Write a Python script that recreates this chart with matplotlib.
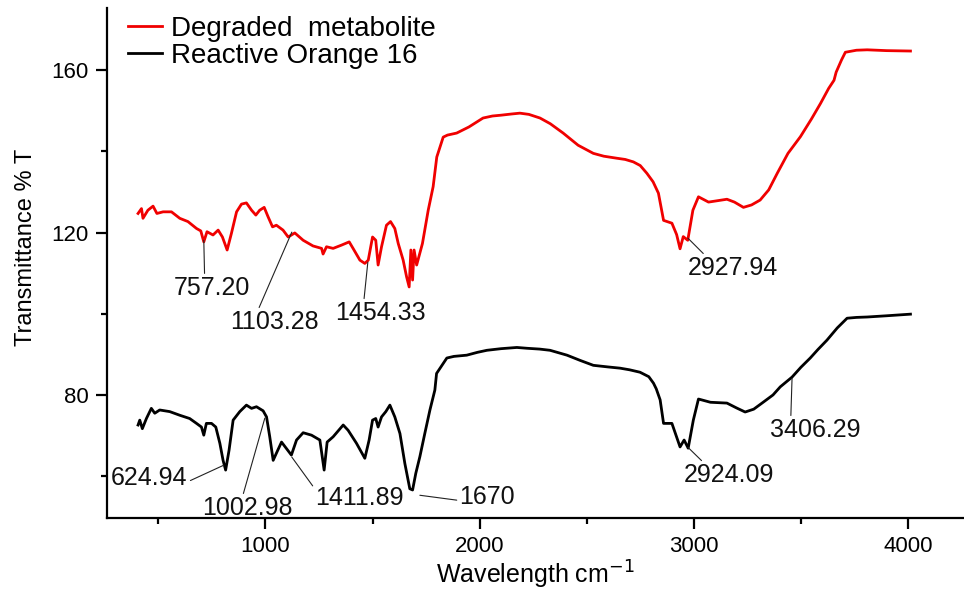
import matplotlib
matplotlib.use("Agg")
import matplotlib.pyplot as plt
from matplotlib.ticker import MultipleLocator

plt.rcParams['font.family'] = ['Liberation Sans', 'DejaVu Sans']

# FTIR spectrum of the degraded metabolite (cm-1, %T)
wn_red = [405, 421, 428, 451, 475, 493, 522, 561, 600, 638, 678, 698, 712, 727,
          755, 779, 799, 821, 841, 865, 888, 911, 935, 955, 973, 994, 1012, 1033,
          1051, 1082, 1106, 1137, 1176, 1222, 1262, 1269, 1285, 1316, 1355, 1391,
          1409, 1441, 1464, 1480, 1500, 1515, 1526, 1542, 1565, 1584, 1604, 1620,
          1643, 1659, 1671, 1679, 1687, 1694, 1706, 1733, 1760, 1783, 1800, 1830,
          1850, 1893, 1950, 2016, 2060, 2100, 2150, 2188, 2230, 2282, 2330, 2390,
          2460, 2531, 2580, 2641, 2680, 2718, 2750, 2781, 2810, 2835, 2859, 2898,
          2920, 2936, 2951, 2972, 2996, 3022, 3069, 3155, 3190, 3232, 3270, 3310,
          3350, 3390, 3440, 3498, 3550, 3592, 3630, 3655, 3665, 3690, 3708, 3760,
          3810, 3900, 4012]
t_red = [124.7, 125.9, 123.5, 125.5, 126.5, 124.7, 125.1, 125.1, 123.5, 122.7,
         121.0, 120.4, 117.7, 120.2, 119.4, 120.6, 118.9, 115.7, 119.8, 125.1,
         127.0, 127.3, 125.5, 124.3, 125.5, 126.2, 123.9, 121.4, 121.8, 120.6,
         118.9, 119.9, 118.1, 116.7, 116.1, 114.7, 116.5, 116.1, 116.9, 117.7,
         116.1, 113.2, 112.4, 113.2, 118.9, 118.1, 112.0, 116.5, 121.8, 122.7,
         121.0, 117.3, 113.2, 109.1, 106.6, 115.7, 108.3, 115.7, 112.0, 117.3,
         125.5, 131.3, 138.6, 143.5, 144.0, 144.5, 146.0, 148.2, 148.7, 148.9,
         149.2, 149.4, 149.1, 148.2, 146.8, 144.5, 141.5, 139.5, 138.8, 138.3,
         138.0, 137.4, 136.5, 134.6, 132.5, 129.7, 123.0, 122.3, 119.5, 116.0,
         119.0, 118.1, 125.5, 128.8, 127.5, 128.2, 127.5, 126.2, 126.8, 128.0,
         130.5, 134.6, 139.5, 143.6, 148.0, 151.8, 155.5, 157.5, 159.5, 162.5,
         164.4, 164.9, 165.0, 164.8, 164.7]

# FTIR spectrum of Reactive Orange 16
wn_black = [405, 413, 425, 444, 467, 483, 506, 553, 600, 646, 678, 701, 712, 724,
            748, 768, 787, 802, 814, 830, 849, 880, 911, 935, 958, 989, 1005,
            1020, 1036, 1054, 1075, 1098, 1121, 1145, 1176, 1215, 1254, 1274, 1288,
            1316, 1363, 1386, 1425, 1464, 1484, 1500, 1515, 1526, 1542, 1562, 1581,
            1604, 1628, 1651, 1674, 1687, 1702, 1721, 1744, 1768, 1791, 1799, 1847,
            1880, 1940, 1990, 2034, 2100, 2174, 2221, 2280, 2329, 2408, 2470, 2531,
            2600, 2656, 2700, 2749, 2790, 2812, 2825, 2843, 2859, 2898, 2936, 2955,
            2974, 2998, 3022, 3078, 3155, 3200, 3240, 3280, 3324, 3370, 3404, 3459,
            3500, 3544, 3580, 3622, 3670, 3716, 3760, 3810, 3900, 4012]
t_black = [72.6, 73.8, 71.7, 74.2, 76.7, 75.5, 76.3, 75.9, 75.0, 74.2, 73.0, 72.1,
           70.1, 73.0, 73.0, 72.1, 68.1, 63.9, 61.5, 66.4, 73.8, 75.9, 77.5, 76.7,
           77.1, 76.1, 74.6, 69.7, 63.9, 66.0, 68.4, 66.8, 65.2, 68.9, 70.7, 70.1,
           68.9, 61.5, 68.4, 69.7, 72.6, 71.3, 68.1, 64.4, 68.9, 73.8, 74.2, 72.1,
           74.6, 75.9, 77.5, 74.6, 70.5, 63.1, 56.9, 56.6, 60.7, 64.8, 70.5, 76.3,
           81.2, 85.3, 89.1, 89.5, 89.8, 90.5, 91.0, 91.4, 91.7, 91.5, 91.3, 91.0,
           89.8, 88.5, 87.3, 86.9, 86.6, 86.2, 85.6, 84.5, 82.9, 81.5, 78.8, 73.0,
           73.0, 67.2, 68.9, 66.9, 73.8, 79.0, 78.2, 78.0, 76.8, 75.8, 76.5, 78.2,
           80.0, 82.0, 84.4, 86.8, 89.1, 91.2, 93.5, 96.5, 98.9, 99.1, 99.2, 99.5,
           99.9]

# peak labels: text, point on curve, text centre, where the leader meets the text
peak_text = ['757.20', '1103.28', '1454.33', '2927.94',
             '624.94', '1002.98', '1411.89', '1670', '2924.09', '3406.29']
peak_xy = [(712, 118.1), (1123, 120.1), (1478, 112.7), (2973, 118.6),
           (805, 62.7), (997, 74.3), (1123, 64.7), (1721, 55.3), (2973, 67.1),
           (3459, 84.1)]
text_xy = [(748, 106.3), (1041, 97.9), (1539, 100.1), (3181, 111.2),
           (458, 59.5), (917, 52.1), (1440, 54.6), (2036, 54.8), (3165, 60.2),
           (3567, 71.3)]
leader_rel = [(0.41, 0.95), (0.31, 0.95), (0.31, 0.95), (0.22, 0.95),
              (1.0, 0.35), (0.44, 0.95), (0.0, 0.85), (0.05, 0.35), (0.24, 0.95),
              (0.23, 0.95)]

fig = plt.figure(figsize=(9.64, 5.92), dpi=100)
ax = fig.add_axes([0.111, 0.125, 0.889, 0.8615])

ax.plot(wn_red, t_red, color='#f00000', lw=2.0, label='Degraded  metabolite')
ax.plot(wn_black, t_black, color='black', lw=2.0, label='Reactive Orange 16')

for txt, xy, pos, rel in zip(peak_text, peak_xy, text_xy, leader_rel):
    ax.annotate(txt, xy=xy, xytext=pos, ha='center', va='center', fontsize=18,
                color='#111111',
                arrowprops=dict(arrowstyle='-', color='#222222', lw=0.8,
                                relpos=rel, shrinkA=0, shrinkB=0))

ax.set_xlim(260, 4262)
ax.set_ylim(49.7, 175.3)
ax.xaxis.set_major_locator(MultipleLocator(1000))
ax.xaxis.set_minor_locator(MultipleLocator(500))
ax.yaxis.set_major_locator(MultipleLocator(40))
ax.yaxis.set_minor_locator(MultipleLocator(20))

for side in ['top', 'right']:
    ax.spines[side].set_visible(False)
for side in ['left', 'bottom']:
    ax.spines[side].set_linewidth(1.6)

ax.tick_params(which='major', direction='out', length=8, width=1.6,
               labelsize=16, pad=5)
ax.tick_params(which='minor', direction='out', length=4.5, width=1.6)

ax.set_xlabel('Wavelength cm$^{-1}$', fontsize=18, labelpad=1)
ax.set_ylabel('Transmittance % T', fontsize=17)
ax.yaxis.set_label_coords(-0.082, 0.53)

ax.legend(loc='upper left', bbox_to_anchor=(0.025, 0.985), frameon=False,
          fontsize=20, handlelength=1.2, handletextpad=0.35, labelspacing=0.05,
          borderaxespad=0, borderpad=0)

fig.savefig('out.png', dpi=100)
